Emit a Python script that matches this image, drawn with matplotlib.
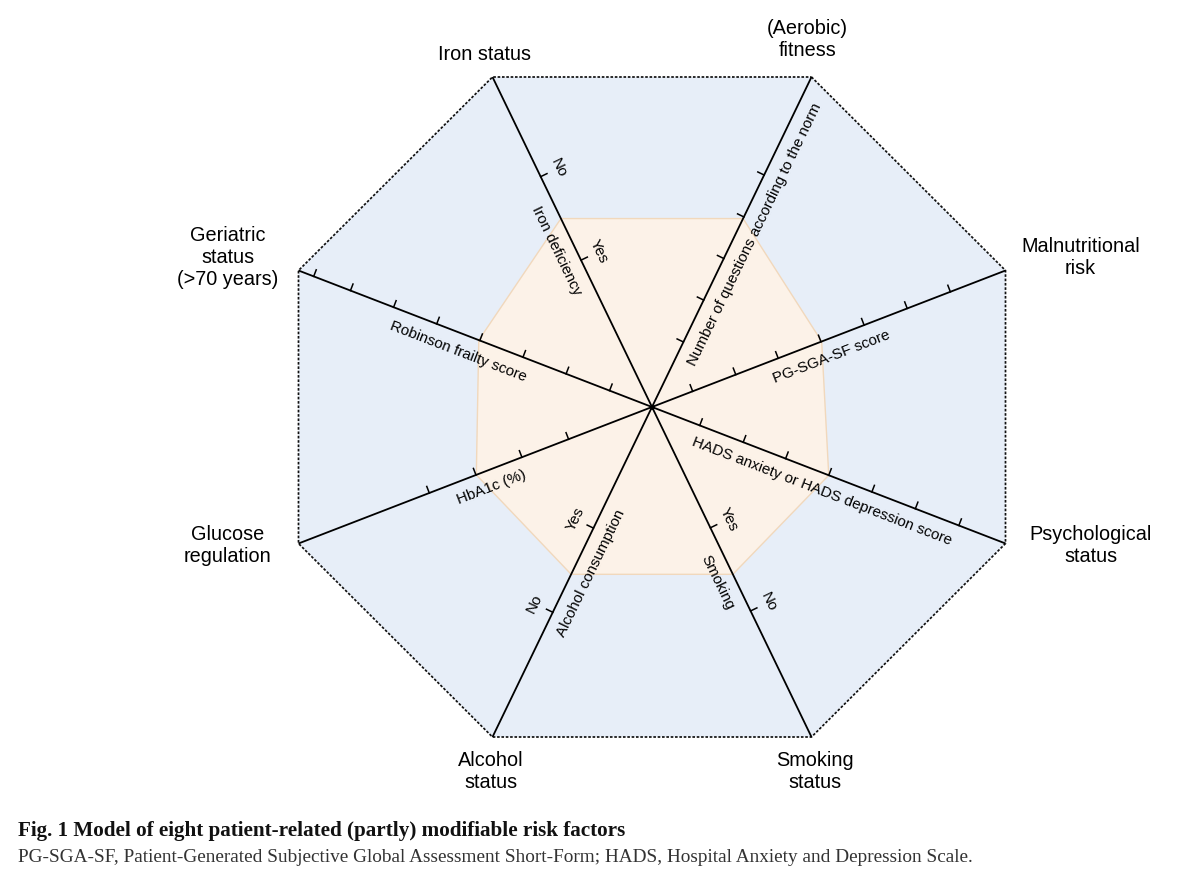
import numpy as np
import matplotlib
matplotlib.use("Agg")
import matplotlib.pyplot as plt
from matplotlib.patches import Polygon

# ------------------------------------------------------------------ data
factors = ["(Aerobic)\nfitness", "Malnutritional\nrisk", "Psychological\nstatus",
           "Smoking\nstatus", "Alcohol\nstatus", "Glucose\nregulation",
           "Geriatric\nstatus\n(>70 years)", "Iron status"]
measures = ["Number of questions according to the norm", "PG-SGA-SF score",
            "HADS anxiety or HADS depression score", "Smoking",
            "Alcohol consumption", "HbA1c (%)", "Robinson frailty score",
            "Iron deficiency"]
# normal range (inner polygon), as fraction of each spoke
norm_values = [0.571, 0.48, 0.50, 0.507, 0.507, 0.497, 0.49, 0.571]
# tick marks along each spoke (fraction of spoke)
tick_values = [
    [0.197, 0.324, 0.45, 0.576, 0.703],
    [0.115, 0.237, 0.357, 0.478, 0.60, 0.722, 0.844],
    [0.135, 0.258, 0.378, 0.50, 0.622, 0.745, 0.868],
    [0.366, 0.618],
    [0.367, 0.622],
    [0.236, 0.368, 0.498, 0.63],
    [0.12, 0.243, 0.365, 0.487, 0.609, 0.731, 0.853, 0.957],
    [0.445, 0.698],
]
tick_texts = [[], [], [], ["Yes", "No"], ["Yes", "No"], [], [], ["Yes", "No"]]
caption_title = "Fig. 1 Model of eight patient-related (partly) modifiable risk factors"
caption_note = ("PG-SGA-SF, Patient-Generated Subjective Global Assessment Short-Form; "
                "HADS, Hospital Anxiety and Depression Scale.")

# ---------------------------------------------------------------- layout
W, H = 1200, 884
CX, CY = 652, 407                 # hub position (pixels from top-left)
TOP_X, TOP_Y = 159.5, 330         # half-extent of top/bottom vertices
SIDE_X, SIDE_Y = 353.5, 136.5     # half-extent of side vertices
signs = [(1, 1, 0), (1, 1, 1), (1, -1, 1), (1, -1, 0),
         (-1, -1, 0), (-1, -1, 1), (-1, 1, 1), (-1, 1, 0)]
spokes = np.array([(sx * (SIDE_X if side else TOP_X), sy * (SIDE_Y if side else TOP_Y))
                   for sx, sy, side in signs])
title_offsets = [(-4, 38), (75, 13), (85, -2), (3, -35), (-2, -35),
                 (-71, -2), (-71, 13), (-8, 23)]
measure_pos = [0.547, 0.49, 0.497, 0.508, 0.482, 0.472, 0.529, 0.498]
MEASURE_OFF = -17.5
TICKTEXT_OFF = 20
TICK_LEN = 7

BLUE = "#e7eef8"
ORANGE_FILL = "#fcf2e8"
ORANGE_EDGE = "#f1d8bc"
SANS = ["Liberation Sans", "DejaVu Sans"]
SERIF = ["Liberation Serif", "DejaVu Serif"]

fig = plt.figure(figsize=(W / 100, H / 100), dpi=100)
fig.patch.set_facecolor("white")
ax = fig.add_axes([0, 0, 1, 1])
ax.set_xlim(-CX, W - CX)
ax.set_ylim(-(H - CY), CY)
ax.axis("off")

# outer octagon
ax.add_patch(Polygon(spokes, closed=True, facecolor=BLUE, edgecolor="none", zorder=1))
ax.add_patch(Polygon(spokes, closed=True, facecolor="none", edgecolor="#111111",
                     lw=1.25, linestyle=(0, (1.5, 1.0)), zorder=4))
# inner (norm) polygon
inner = spokes * np.array(norm_values)[:, None]
ax.add_patch(Polygon(inner, closed=True, facecolor=ORANGE_FILL, edgecolor=ORANGE_EDGE,
                     lw=1.0, zorder=2))

for i, vec in enumerate(spokes):
    length = np.hypot(*vec)
    u = vec / length
    p = np.array([-u[1], u[0]])
    if p[1] < 0:
        p = -p
    ang = np.degrees(np.arctan2(u[1], u[0]))
    rot = ang
    if rot > 90:
        rot -= 180
    elif rot < -90:
        rot += 180
    # spoke line through hub
    ax.plot([0, vec[0]], [0, vec[1]], color="black", lw=1.3, zorder=5,
            solid_capstyle="butt")
    # ticks
    for j, t in enumerate(tick_values[i]):
        a = vec * t
        b = a + p * TICK_LEN
        ax.plot([a[0], b[0]], [a[1], b[1]], color="black", lw=1.1, zorder=5)
        if tick_texts[i]:
            c = a + p * TICKTEXT_OFF
            ax.text(c[0], c[1], tick_texts[i][j], rotation=rot, rotation_mode="anchor",
                    ha="center", va="center", fontsize=11, family=SANS, zorder=6)
    # measure label along the spoke
    m = vec * measure_pos[i] + p * MEASURE_OFF
    ax.text(m[0], m[1], measures[i], rotation=rot, rotation_mode="anchor",
            ha="center", va="center", fontsize=10.9, family=SANS, zorder=6)
    # factor title beyond vertex
    ox, oy = title_offsets[i]
    ax.text(vec[0] + ox, vec[1] + oy, factors[i], ha="center", va="center",
            fontsize=14.3, family=SANS, linespacing=1.2, zorder=6)

ax.plot([0], [0], marker="o", ms=2.5, color="black", zorder=6)

# caption
fig.text(18 / W, 1 - 831 / H, caption_title, ha="left", va="center",
         fontsize=15.2, fontweight="bold", family=SERIF, color="#111111")
fig.text(18 / W, 1 - 858 / H, caption_note, ha="left", va="center",
         fontsize=13.9, family=SERIF, color="#333333")

fig.savefig("out.png", dpi=100)
